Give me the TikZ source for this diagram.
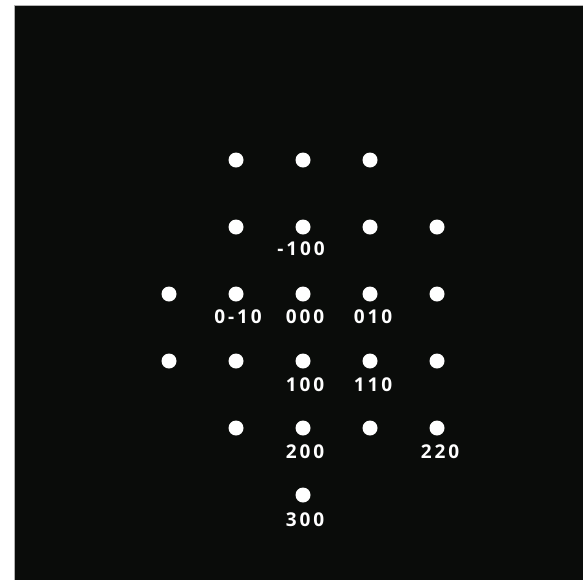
\documentclass[tikz,border=0pt]{standalone}
\usepackage{fontspec}
\newfontfamily\labfont[LetterSpace=15]{Open Sans}
\definecolor{bg}{HTML}{0A0C0A}
\begin{document}
\begin{tikzpicture}[x=1pt,y=-1pt,
  spot/.style={circle,fill=white,inner sep=0pt,minimum size=15pt},
  lab/.style={text=white,font=\labfont\bfseries\fontsize{19}{19}\selectfont,inner sep=0pt,anchor=center}]
\useasboundingbox (0,0) rectangle (583,579);
\fill[white] (0,0) rectangle (583,579);
\fill[bg,draw=gray!60,line width=1pt] (14,5) rectangle (584,580);
% row 1
\node[spot] (a1) at (236,160) {};
\node[spot] (a2) at (303,160) {};
\node[spot] (a3) at (370,160) {};
% row 2
\node[spot] (b1) at (236,227) {};
\node[spot] (b2) at (303,227) {};
\node[spot] (b3) at (370,227) {};
\node[spot] (b4) at (437,227) {};
% row 3
\node[spot] (c0) at (169,294) {};
\node[spot] (c1) at (236,294) {};
\node[spot] (c2) at (303,294) {};
\node[spot] (c3) at (370,294) {};
\node[spot] (c4) at (437,294) {};
% row 4
\node[spot] (d0) at (169,361) {};
\node[spot] (d1) at (236,361) {};
\node[spot] (d2) at (303,361) {};
\node[spot] (d3) at (370,361) {};
\node[spot] (d4) at (437,361) {};
% row 5
\node[spot] (e1) at (236,428) {};
\node[spot] (e2) at (303,428) {};
\node[spot] (e3) at (370,428) {};
\node[spot] (e4) at (437,428) {};
% row 6
\node[spot] (f2) at (303,495) {};
% labels
\node[lab] (lb2) at (301,249) {-100};
\node[lab] (lc1) at (238,317) {0-10};
\node[lab] (lc2) at (305,317) {000};
\node[lab] (lc3) at (373,317) {010};
\node[lab] (ld2) at (305,385) {100};
\node[lab] (ld3) at (373,385) {110};
\node[lab] (le2) at (305,452) {200};
\node[lab] (le4) at (440,452) {220};
\node[lab] (lf2) at (305,520) {300};
\end{tikzpicture}
\end{document}
